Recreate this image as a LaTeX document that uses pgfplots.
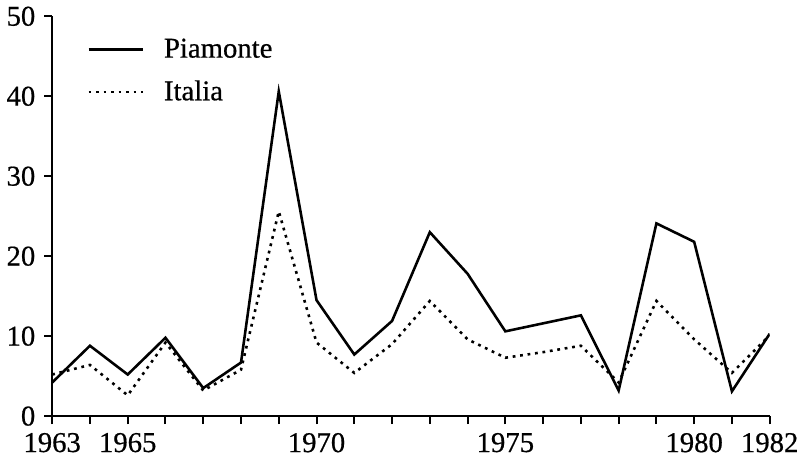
\documentclass[border=0pt]{standalone}
\usepackage{fontspec}
\setmainfont{Liberation Serif}[BoldFont=Liberation Serif, BoldFeatures={FakeBold=0.6}]
\usepackage{pgfplots}
\pgfplotsset{compat=1.18}
\begin{document}
\begin{tikzpicture}
\begin{axis}[
  scale only axis,
  width=362.5pt, height=202pt,
  xmin=1963, xmax=1982, ymin=0, ymax=50,
  axis x line=bottom, axis y line=left,
  axis line style={-, line width=1.2pt},
  every tick/.style={black, line width=1pt},
  tick align=outside,
  major tick length=4pt, minor tick length=4pt,
  xtick={1963,1965,1970,1975,1980,1982},
  minor xtick={1963,...,1982},
  ytick={0,10,20,30,40,50},
  x tick label style={/pgf/number format/1000 sep={}, yshift=-1pt},
  y tick label style={xshift=-1pt},
  /pgf/number format/assume math mode=true,
  tick label style={font=\fontsize{14.5}{16}\selectfont\bfseries},
  legend style={at={(0.04,0.965)}, anchor=north west, draw=none, fill=none,
    font=\fontsize{14.5}{16}\selectfont\bfseries, row sep=6pt,
    nodes={inner xsep=10pt}},
  legend cell align=left,
  legend image code/.code={\draw[#1] (0pt,0pt) -- (27.5pt,0pt);},
]
\addplot[black, line width=1.3pt, sharp plot] coordinates {
(1963,4.2) (1964,8.8) (1965,5.2) (1966,9.8) (1967,3.5) (1968,6.7)
(1969,40.6) (1970,14.5) (1971,7.7) (1972,11.9) (1973,23.0) (1974,17.8)
(1975,10.6) (1976,11.6) (1977,12.6) (1978,3.2) (1979,24.1) (1980,21.8)
(1981,3.1) (1982,10.3)};
\addlegendentry{Piamonte}
\addplot[black, line width=1.3pt, dash pattern=on 1.4pt off 2.4pt, sharp plot] coordinates {
(1963,5.2) (1964,6.4) (1965,2.6) (1966,9.2) (1967,3.2) (1968,5.8)
(1969,25.6) (1970,9.2) (1971,5.4) (1972,9.0) (1973,14.4) (1974,9.6)
(1975,7.3) (1976,8.0) (1977,8.8) (1978,4.2) (1979,14.4) (1980,9.6)
(1981,5.4) (1982,10.1)};
\addlegendentry{Italia}
\end{axis}
\end{tikzpicture}
\end{document}
